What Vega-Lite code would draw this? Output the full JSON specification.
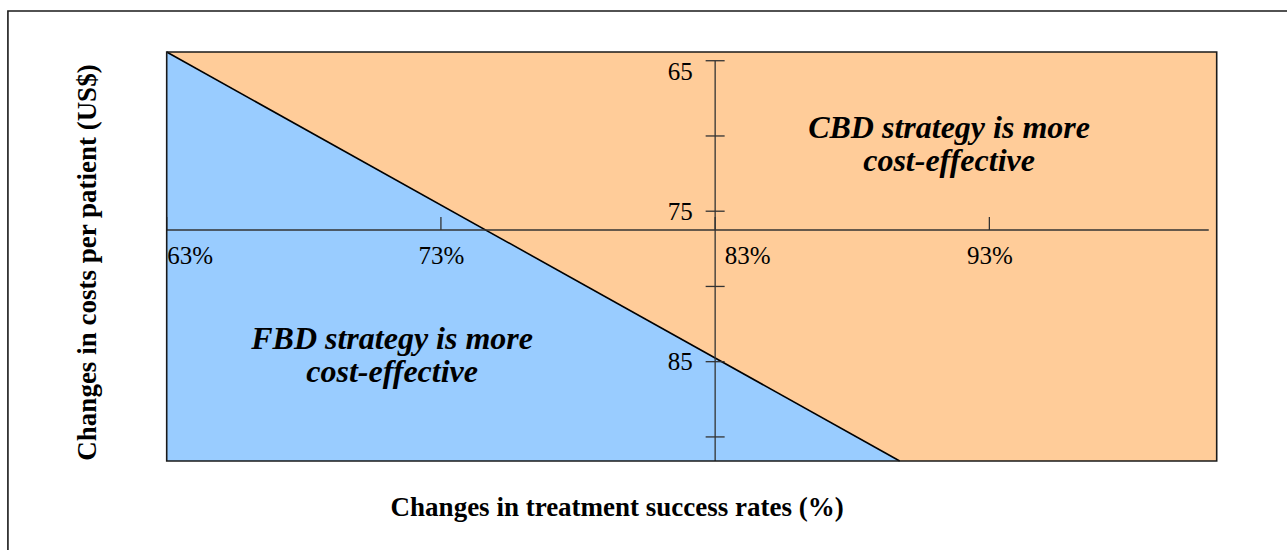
{
  "$schema": "https://vega.github.io/schema/vega-lite/v6.json",
  "width": 1050,
  "height": 409,
  "autosize": {"type": "none"},
  "padding": {"left": 166.7, "top": 52, "right": 70.3, "bottom": 89},
  "background": "#ffffff",
  "datasets": {
    "diag": [{"x": 63, "y": 64.42}, {"x": 89.73, "y": 91.6}],
    "axislines": [
      {"x1": 63, "x2": 101, "y1": 76.25, "y2": 76.25},
      {"x1": 83, "x2": 83, "y1": 65, "y2": 91.6}
    ],
    "xticks": [{"v": 63}, {"v": 73}, {"v": 83}, {"v": 93}],
    "yticks": [{"v": 65}, {"v": 70}, {"v": 75}, {"v": 80}, {"v": 85}, {"v": 90}],
    "frames": [
      {"part": "plot", "x1": 63, "x2": 101.29, "y1": 64.42, "y2": 91.6},
      {"part": "outer", "x1": 57.21, "x2": 112, "y1": 61.7, "y2": 100}
    ],
    "notes": [
      {"x": 91.53, "y": 69.5, "label": "CBD strategy is more\ncost-effective"},
      {"x": 71.22, "y": 83.52, "label": "FBD strategy is more\ncost-effective"}
    ]
  },
  "layer": [
    {
      "data": {"name": "diag"},
      "mark": {"type": "area", "color": "#99CCFF", "opacity": 1},
      "encoding": {
        "x": {
          "field": "x", "type": "quantitative",
          "scale": {"domain": [63, 101.29], "nice": false, "zero": false},
          "axis": {
            "title": "Changes in treatment success rates (%)",
            "values": [63, 73, 83, 93],
            "labelExpr": "datum.value + '%'",
            "orient": "bottom", "offset": -231, "zindex": 1,
            "domain": false, "ticks": false, "grid": false,
            "labelFont": "Liberation Serif", "labelFontSize": 25, "labelColor": "#000000",
            "labelBaseline": "top",
            "labelPadding": 13,
            "labelAlign": {"condition": {"test": "datum.value == 63", "value": "left"}, "value": "center"},
            "labelOffset": {"condition": {"test": "datum.value == 83", "value": 32}, "value": 0},
            "labelFlush": false, "labelOverlap": false,
            "titleFont": "Liberation Serif", "titleFontSize": 27, "titleFontWeight": "bold", "titleColor": "#000000",
            "titleX": 450, "titleY": 285, "titleBaseline": "alphabetic", "titleAlign": "center"
          }
        },
        "y": {
          "field": "y", "type": "quantitative",
          "scale": {"domain": [64.42, 91.6], "nice": false, "zero": false, "reverse": true},
          "axis": {
            "title": "Changes in costs per patient (US$)",
            "values": [65, 75, 85],
            "orient": "left", "offset": -548.5, "zindex": 1,
            "domain": false, "ticks": false, "grid": false,
            "labelFont": "Liberation Serif", "labelFontSize": 25, "labelColor": "#000000",
            "labelPadding": 23, "labelAlign": "right", "labelBaseline": "middle",
            "labelOffset": {"condition": {"test": "datum.value == 65", "value": 11}, "value": 0},
            "labelFlush": false, "labelOverlap": false,
            "titleFont": "Liberation Serif", "titleFontSize": 27, "titleFontWeight": "bold", "titleColor": "#000000",
            "titleX": -627.5, "titleY": 210, "titleAngle": -90, "titleBaseline": "middle", "titleAlign": "center"
          }
        },
        "y2": {"datum": 91.6}
      }
    },
    {
      "data": {"name": "diag"},
      "mark": {"type": "line", "color": "#000000", "strokeWidth": 1.6},
      "encoding": {
        "x": {"field": "x", "type": "quantitative"},
        "y": {"field": "y", "type": "quantitative"}
      }
    },
    {
      "data": {"name": "axislines"},
      "mark": {"type": "rule", "color": "#333333", "strokeWidth": 1.3},
      "encoding": {
        "x": {"field": "x1", "type": "quantitative"},
        "x2": {"field": "x2"},
        "y": {"field": "y1", "type": "quantitative"},
        "y2": {"field": "y2"}
      }
    },
    {
      "data": {"name": "xticks"},
      "mark": {"type": "rule", "color": "#333333", "strokeWidth": 1.3, "y2Offset": -13},
      "encoding": {
        "x": {"field": "v", "type": "quantitative"},
        "y": {"datum": 76.25, "type": "quantitative"},
        "y2": {"datum": 76.25}
      }
    },
    {
      "data": {"name": "yticks"},
      "mark": {"type": "rule", "color": "#333333", "strokeWidth": 1.3, "xOffset": -9.5, "x2Offset": 9.5},
      "encoding": {
        "y": {"field": "v", "type": "quantitative"},
        "x": {"datum": 83, "type": "quantitative"},
        "x2": {"datum": 83}
      }
    },
    {
      "data": {"name": "frames"},
      "mark": {"type": "rect", "fill": null, "fillOpacity": 0, "stroke": "#1a1a1a", "strokeWidth": 1.6},
      "encoding": {
        "x": {"field": "x1", "type": "quantitative"},
        "x2": {"field": "x2"},
        "y": {"field": "y1", "type": "quantitative"},
        "y2": {"field": "y2"}
      }
    },
    {
      "data": {"name": "notes"},
      "mark": {"type": "text", "font": "Liberation Serif", "fontSize": 32, "fontWeight": "bold", "fontStyle": "italic", "color": "#000000", "align": "center", "baseline": "middle", "lineBreak": "\n", "lineHeight": 33},
      "encoding": {
        "x": {"field": "x", "type": "quantitative"},
        "y": {"field": "y", "type": "quantitative"},
        "text": {"field": "label", "type": "nominal"}
      }
    }
  ],
  "config": {
    "view": {"stroke": null, "fill": "#FFCC99"}
  }
}
